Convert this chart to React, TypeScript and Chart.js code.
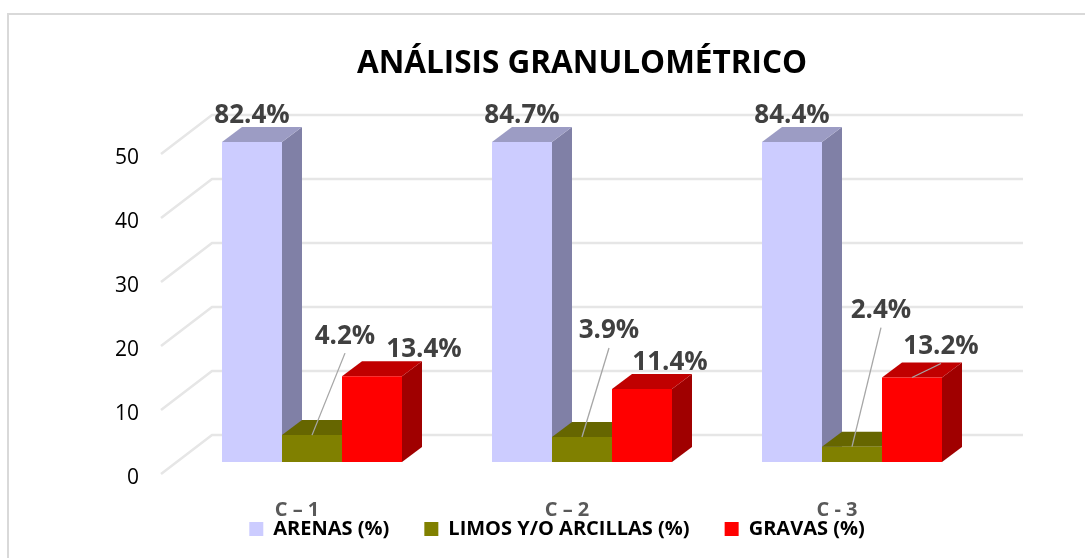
import React, { useEffect, useRef } from "react";
import { Chart, registerables } from "chart.js";

Chart.register(...registerables);

const categories = ["C – 1", "C – 2", "C - 3"];
const arenas = [82.4, 84.7, 84.4];
const limos = [4.2, 3.9, 2.4];
const gravas = [13.4, 11.4, 13.2];
const seriesNames = ["ARENAS (%)", "LIMOS Y/O ARCILLAS (%)", "GRAVAS (%)"];
const titleText = "ANÁLISIS GRANULOMÉTRICO";
const yTicks = [0, 10, 20, 30, 40, 50];

const FONT = "'Open Sans', Lato, sans-serif";
const DEPTH_X = 20;
const DEPTH_Y = 15;
const faces = [
  { front: "#CCCCFF", top: "#9C9CC4", side: "#8080A6" },
  { front: "#808000", top: "#666600", side: "#666600" },
  { front: "#FF0000", top: "#C00000", side: "#A00000" },
];
// label centre relative to the top-centre of the bar's front face
const labelOffsets = [
  [{ dx: 0, dy: -28 }, { dx: 0, dy: -28 }, { dx: 0, dy: -28 }],
  [{ dx: 33, dy: -101, leader: true }, { dx: 27, dy: -108, leader: true }, { dx: 29, dy: -138, leader: true }],
  [{ dx: 52, dy: -29 }, { dx: 28, dy: -28 }, { dx: 29, dy: -33, leader: true }],
];

const wallPlugin = {
  id: "wall",
  beforeDatasetsDraw(chart: any) {
    const { ctx, chartArea, scales } = chart;
    ctx.save();
    ctx.strokeStyle = "#E6E6E6";
    ctx.lineWidth = 2.5;
    for (const v of yTicks) {
      const y = scales.y.getPixelForValue(v);
      ctx.beginPath();
      ctx.moveTo(chartArea.left - 16, y + 12);
      ctx.lineTo(chartArea.left + 35, y - 27);
      ctx.lineTo(chartArea.right + 36, y - 27);
      ctx.stroke();
    }
    ctx.restore();
  },
};

const depthPlugin = {
  id: "depth",
  beforeDatasetsDraw(chart: any) {
    const { ctx, chartArea } = chart;
    ctx.save();
    chart.data.datasets.forEach((_: any, di: number) => {
      chart.getDatasetMeta(di).data.forEach((bar: any) => {
        const left = bar.x - bar.width / 2;
        const right = bar.x + bar.width / 2;
        const top = Math.max(bar.y, chartArea.top);
        const base = bar.base;
        ctx.fillStyle = faces[di].side;
        ctx.beginPath();
        ctx.moveTo(right, top);
        ctx.lineTo(right + DEPTH_X, top - DEPTH_Y);
        ctx.lineTo(right + DEPTH_X, base - DEPTH_Y);
        ctx.lineTo(right, base);
        ctx.closePath();
        ctx.fill();
        ctx.fillStyle = faces[di].top;
        ctx.beginPath();
        ctx.moveTo(left, top);
        ctx.lineTo(left + DEPTH_X, top - DEPTH_Y);
        ctx.lineTo(right + DEPTH_X, top - DEPTH_Y);
        ctx.lineTo(right, top);
        ctx.closePath();
        ctx.fill();
      });
    });
    ctx.restore();
  },
};

const labelPlugin = {
  id: "valueLabels",
  afterDatasetsDraw(chart: any) {
    const { ctx, chartArea } = chart;
    ctx.save();
    ctx.font = `bold 26px ${FONT}`;
    ctx.textAlign = "center";
    ctx.textBaseline = "middle";
    chart.data.datasets.forEach((ds: any, di: number) => {
      chart.getDatasetMeta(di).data.forEach((bar: any, i: number) => {
        const top = Math.max(bar.y, chartArea.top);
        const o: any = labelOffsets[di][i];
        const x = bar.x + o.dx;
        const y = top + o.dy;
        if (o.leader) {
          ctx.strokeStyle = "#A6A6A6";
          ctx.lineWidth = 1.3;
          ctx.beginPath();
          ctx.moveTo(bar.x, top);
          ctx.lineTo(x, y + 19);
          ctx.stroke();
        }
        ctx.fillStyle = "#404040";
        ctx.fillText(`${ds.data[i].toFixed(1)}%`, x, y + 2);
      });
    });
    ctx.restore();
  },
};

// the legend is centred a little right of the plot and tucked under the category labels, as in the original
const legendShift = {
  id: "legendShift",
  afterLayout(chart: any) {
    chart.legend.left += 63.5;
    chart.legend.right += 63.5;
    chart.legend.top -= 34;
    chart.legend.bottom -= 34;
  },
};

export default function App() {
  const ref = useRef<HTMLCanvasElement>(null);
  useEffect(() => {
    const chart = new Chart(ref.current!, {
      type: "bar",
      data: {
        labels: categories,
        datasets: [arenas, limos, gravas].map((data, i) => ({
          label: seriesNames[i],
          data,
          backgroundColor: faces[i].front,
          borderWidth: 0,
          categoryPercentage: 2 / 3,
          barPercentage: 1,
        })),
      },
      options: {
        responsive: false,
        animation: false,
        layout: { padding: { left: 0, right: 98, top: 0, bottom: -25 } },
        plugins: {
          tooltip: { enabled: false },
          title: {
            display: true,
            text: titleText,
            fullSize: false,
            color: "#000000",
            font: { family: FONT, size: 31.5, weight: "bold", lineHeight: 1 },
            padding: { top: 48.5, bottom: 62 },
          },
          legend: {
            position: "bottom",
            labels: {
              boxWidth: 14,
              boxHeight: 14,
              padding: 35,
              color: "#000000",
              font: { family: FONT, size: 20, weight: "bold" },
            },
          },
        },
        scales: {
          x: {
            grid: { display: false },
            border: { display: false },
            afterFit: (s: any) => { s.height = 56; },
            ticks: {
              color: "#595959",
              padding: 28,
              labelOffset: -15,
              maxRotation: 0,
              font: { family: FONT, size: 20, weight: "bold" },
            },
          },
          y: {
            min: 0,
            max: 50,
            grid: { display: false, drawTicks: false },
            border: { display: false },
            afterFit: (s: any) => { s.width = 177; },
            ticks: {
              stepSize: 10,
              color: "#000000",
              padding: 38,
              labelOffset: 16,
              font: { family: FONT, size: 21 },
            },
          },
        },
      },
      plugins: [legendShift, wallPlugin, depthPlugin, labelPlugin],
    } as any);
    return () => chart.destroy();
  }, []);
  return (
    <div style={{ position: "absolute", left: 0, top: 0, width: 1085, height: 558, background: "#fff", overflow: "hidden" }}>
      <canvas ref={ref} width={1085} height={558} style={{ display: "block" }} />
      <div
        style={{
          position: "absolute",
          left: 7,
          top: 13,
          width: 1078,
          height: 545,
          borderLeft: "2px solid #D9D9D9",
          borderTop: "2px solid #D9D9D9",
          boxSizing: "border-box",
          pointerEvents: "none",
        }}
      />
    </div>
  );
}
